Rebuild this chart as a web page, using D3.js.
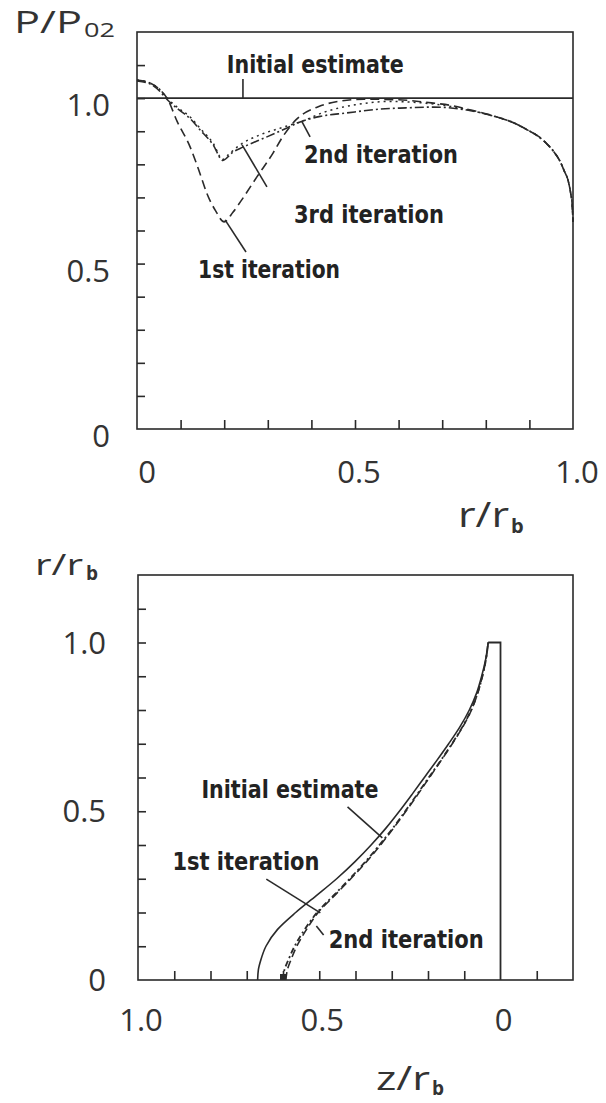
<!DOCTYPE html>
<html>
<head>
<meta charset="utf-8">
<script src="https://cdn.jsdelivr.net/npm/d3@7"></script>
<style>
body { margin: 0; background: #fff; }
.lbl { font-family: "Open Sans", "Liberation Sans", sans-serif; font-weight: 400; fill: #333; }
.note { font-family: "Liberation Sans Narrow", "DejaVu Sans Condensed", "Liberation Sans", sans-serif; font-weight: bold; font-size: 24px; fill: #222; }
</style>
</head>
<body>
<script>
// ---- top chart: P/P02 against r/rb
const topXTicks = [0.1, 0.2, 0.3, 0.4, 0.5, 0.6, 0.7, 0.8, 0.9];
const topYTicks = [0.1, 0.2, 0.3, 0.4, 0.5, 0.6, 0.7, 0.8, 0.9, 1.0, 1.1];
const topXLabels = [0, 0.5, 1.0];
const topYLabels = [0, 0.5, 1.0];

const initR = [0, 1.0];
const initP = [1.0, 1.0];

const it1R = [0, 0.03, 0.053, 0.069, 0.092, 0.122, 0.144, 0.16, 0.18, 0.2, 0.22, 0.243, 0.275, 0.312, 0.335, 0.365, 0.417, 0.461, 0.52, 0.6, 0.68, 0.72, 0.76, 0.8, 0.833, 0.865, 0.894, 0.92, 0.94, 0.955, 0.97, 0.98, 0.989, 0.995, 0.998, 1.0];
const it1P = [1.055, 1.046, 1.025, 1.0, 0.93, 0.852, 0.774, 0.713, 0.66, 0.626, 0.655, 0.698, 0.762, 0.834, 0.885, 0.935, 0.975, 0.99, 0.997, 0.995, 0.985, 0.978, 0.966, 0.953, 0.94, 0.925, 0.905, 0.885, 0.862, 0.84, 0.81, 0.78, 0.75, 0.71, 0.68, 0.626];

const it2R = [0, 0.03, 0.053, 0.069, 0.095, 0.122, 0.144, 0.174, 0.197, 0.21, 0.24, 0.28, 0.33, 0.378, 0.43, 0.5, 0.58, 0.66, 0.72, 0.76, 0.8, 0.833, 0.865, 0.894, 0.92, 0.94, 0.955, 0.97, 0.98, 0.989, 0.995, 0.998, 1.0];
const it2P = [1.055, 1.046, 1.025, 1.0, 0.97, 0.943, 0.91, 0.865, 0.815, 0.83, 0.862, 0.888, 0.91, 0.93, 0.958, 0.98, 0.99, 0.985, 0.975, 0.965, 0.952, 0.94, 0.925, 0.905, 0.885, 0.862, 0.84, 0.81, 0.78, 0.75, 0.71, 0.68, 0.626];

const it3R = [0, 0.03, 0.053, 0.069, 0.095, 0.122, 0.144, 0.174, 0.197, 0.22, 0.243, 0.298, 0.344, 0.374, 0.42, 0.479, 0.569, 0.603, 0.679, 0.757, 0.8, 0.833, 0.865, 0.894, 0.92, 0.94, 0.955, 0.97, 0.98, 0.989, 0.995, 0.998, 1.0];
const it3P = [1.052, 1.043, 1.02, 0.996, 0.966, 0.938, 0.905, 0.86, 0.812, 0.837, 0.852, 0.883, 0.91, 0.928, 0.945, 0.955, 0.968, 0.97, 0.973, 0.964, 0.952, 0.94, 0.925, 0.905, 0.885, 0.862, 0.84, 0.81, 0.78, 0.75, 0.71, 0.68, 0.626];

// ---- bottom chart: r/rb against z/rb
const botXTicks = [0.9, 0.8, 0.7, 0.6, 0.5, 0.4, 0.3, 0.2, 0.1, -0.1];
const botYTicks = [0.1, 0.2, 0.3, 0.4, 0.5, 0.6, 0.7, 0.8, 0.9, 1.0, 1.1];
const botXLabels = [1.0, 0.5, 0];
const botYLabels = [0, 0.5, 1.0];

const shapeR = [0, 0.03, 0.06, 0.1, 0.15, 0.2, 0.25, 0.3, 0.35, 0.4, 0.45, 0.5, 0.55, 0.6, 0.65, 0.7, 0.75, 0.8, 0.85, 0.9, 0.95, 1.0];
const shapeInitZ = [0.670, 0.668, 0.661, 0.647, 0.615, 0.565, 0.508, 0.452, 0.402, 0.357, 0.316, 0.279, 0.244, 0.21, 0.176, 0.143, 0.112, 0.086, 0.066, 0.052, 0.041, 0.034];
const shapeIt1Z = [0.592, 0.588, 0.578, 0.562, 0.535, 0.503, 0.458, 0.413, 0.37, 0.331, 0.295, 0.261, 0.228, 0.196, 0.164, 0.133, 0.104, 0.08, 0.063, 0.05, 0.04, 0.034];
const shapeIt2Z = [0.6, 0.596, 0.585, 0.568, 0.54, 0.506, 0.461, 0.416, 0.373, 0.334, 0.297, 0.263, 0.23, 0.198, 0.165, 0.134, 0.105, 0.081, 0.063, 0.05, 0.04, 0.034];
const wallZ = [0.034, 0, 0];
const wallR = [1.0, 1.0, 0];

function main() {
    let svg = d3.select("body").append("svg")
        .attr("width", 606)
        .attr("height", 1103);

    const ink = "#2a2a2a";
    const zip = (a, b) => a.map((v, i) => [v, b[i]]);

    // ================= top chart =================
    let x1 = d3.scaleLinear().domain([0, 1]).range([137, 573]);
    let y1 = d3.scaleLinear().domain([0, 1.2]).range([429, 32]);

    svg.append("rect")
        .attr("x", x1(0)).attr("y", y1(1.2))
        .attr("width", x1(1) - x1(0)).attr("height", y1(0) - y1(1.2))
        .attr("fill", "none").attr("stroke", ink).attr("stroke-width", 1.6);

    let gx1 = svg.append("g")
        .attr("transform", `translate(0,${y1(0)})`)
        .call(d3.axisBottom(x1).tickValues(topXTicks).tickSize(-9).tickFormat(""));
    let gy1 = svg.append("g")
        .attr("transform", `translate(${x1(0)},0)`)
        .call(d3.axisLeft(y1).tickValues(topYTicks).tickSize(-8).tickFormat(""));
    [gx1, gy1].forEach(g => {
        g.select(".domain").remove();
        g.selectAll("line").attr("stroke", ink).attr("stroke-width", 1.6);
    });

    svg.selectAll(".tx1").data(topXLabels).enter().append("text")
        .attr("class", "lbl")
        .attr("x", d => x1(d) + (d === 0 ? 10 : 4))
        .attr("y", y1(0) + 54)
        .attr("text-anchor", "middle")
        .style("font-size", "31px")
        .text(d => d === 0 ? "0" : d.toFixed(1));
    svg.selectAll(".ty1").data(topYLabels).enter().append("text")
        .attr("class", "lbl")
        .attr("x", 110)
        .attr("y", d => y1(d) + 18)
        .attr("text-anchor", "end")
        .style("font-size", "31px")
        .text(d => d === 0 ? "0" : d.toFixed(1));

    let title = (x, y, len, size, txt, bold) => {
        let t = svg.append("text").attr("class", "lbl")
            .attr("x", x).attr("y", y)
            .style("font-size", size + "px")
            .text(txt);
        if (len) t.attr("textLength", len).attr("lengthAdjust", "spacingAndGlyphs");
        if (bold) t.style("font-weight", "bold");
        return t;
    };

    title(14, 33, 68, 31, "P/P");
    title(84, 37, 31, 20, "02");

    title(458, 527, 51, 35, "r/r");
    title(511, 533, 0, 20, "b", true);

    let topLine = d3.line()
        .x(d => x1(d[0])).y(d => y1(d[1]))
        .curve(d3.curveMonotoneX);

    svg.append("path").datum(zip(initR, initP))
        .attr("d", topLine).attr("fill", "none")
        .attr("stroke", ink).attr("stroke-width", 1.6);
    svg.append("path").datum(zip(it1R, it1P))
        .attr("d", topLine).attr("fill", "none")
        .attr("stroke", ink).attr("stroke-width", 1.6)
        .attr("stroke-dasharray", "9,5");
    svg.append("path").datum(zip(it2R, it2P))
        .attr("d", topLine).attr("fill", "none")
        .attr("stroke", ink).attr("stroke-width", 1.5)
        .attr("stroke-dasharray", "2,4");
    svg.append("path").datum(zip(it3R, it3P))
        .attr("d", topLine).attr("fill", "none")
        .attr("stroke", ink).attr("stroke-width", 1.6)
        .attr("stroke-dasharray", "9,3,2,3");

    // labels and leader lines (data units)
    let lead = (sx, sy, a, b, c, d) => svg.append("line")
        .attr("x1", sx(a)).attr("y1", sy(b)).attr("x2", sx(c)).attr("y2", sy(d))
        .attr("stroke", ink).attr("stroke-width", 1.6);
    let note = (sx, sy, a, b, len, txt) => svg.append("text")
        .attr("class", "note")
        .attr("x", sx(a)).attr("y", sy(b))
        .attr("textLength", len).attr("lengthAdjust", "spacingAndGlyphs")
        .text(txt);

    note(x1, y1, 0.206, 1.076, 177, "Initial estimate");
    lead(x1, y1, 0.243, 1.058, 0.243, 1.0);
    note(x1, y1, 0.383, 0.804, 154, "2nd iteration");
    lead(x1, y1, 0.378, 0.93, 0.397, 0.883);
    note(x1, y1, 0.36, 0.623, 150, "3rd iteration");
    lead(x1, y1, 0.241, 0.859, 0.298, 0.732);
    note(x1, y1, 0.14, 0.456, 142, "1st iteration");
    lead(x1, y1, 0.202, 0.632, 0.25, 0.535);

    // ================= bottom chart =================
    let x2 = d3.scaleLinear().domain([1.0, -0.2]).range([138, 573]);
    let y2 = d3.scaleLinear().domain([0, 1.2]).range([980, 575]);

    svg.append("rect")
        .attr("x", x2(1.0)).attr("y", y2(1.2))
        .attr("width", x2(-0.2) - x2(1.0)).attr("height", y2(0) - y2(1.2))
        .attr("fill", "none").attr("stroke", ink).attr("stroke-width", 1.6);

    let gx2 = svg.append("g")
        .attr("transform", `translate(0,${y2(0)})`)
        .call(d3.axisBottom(x2).tickValues(botXTicks).tickSize(-9).tickFormat(""));
    let gy2 = svg.append("g")
        .attr("transform", `translate(${x2(1.0)},0)`)
        .call(d3.axisLeft(y2).tickValues(botYTicks).tickSize(-8).tickFormat(""));
    [gx2, gy2].forEach(g => {
        g.select(".domain").remove();
        g.selectAll("line").attr("stroke", ink).attr("stroke-width", 1.6);
    });

    svg.selectAll(".tx2").data(botXLabels).enter().append("text")
        .attr("class", "lbl")
        .attr("x", d => x2(d) + 3)
        .attr("y", y2(0) + 51)
        .attr("text-anchor", "middle")
        .style("font-size", "31px")
        .text(d => d === 0 ? "0" : d.toFixed(1));
    svg.selectAll(".ty2").data(botYLabels).enter().append("text")
        .attr("class", "lbl")
        .attr("x", 106)
        .attr("y", d => y2(d) + 11)
        .attr("text-anchor", "end")
        .style("font-size", "31px")
        .text(d => d === 0 ? "0" : d.toFixed(1));

    title(35, 575, 48, 30, "r/r");
    title(86, 580, 0, 19, "b", true);

    title(376, 1090, 54, 33, "z/r");
    title(432, 1095, 0, 19, "b", true);

    let botLine = d3.line()
        .x(d => x2(d[0])).y(d => y2(d[1]))
        .curve(d3.curveMonotoneY);

    svg.append("path").datum(zip(wallZ, wallR))
        .attr("d", d3.line().x(d => x2(d[0])).y(d => y2(d[1])))
        .attr("fill", "none").attr("stroke", ink).attr("stroke-width", 1.8);
    svg.append("path").datum(zip(shapeInitZ, shapeR))
        .attr("d", botLine).attr("fill", "none")
        .attr("stroke", ink).attr("stroke-width", 1.6);
    svg.append("path").datum(zip(shapeIt1Z, shapeR))
        .attr("d", botLine).attr("fill", "none")
        .attr("stroke", ink).attr("stroke-width", 1.6)
        .attr("stroke-dasharray", "8,4");
    svg.append("path").datum(zip(shapeIt2Z, shapeR))
        .attr("d", botLine).attr("fill", "none")
        .attr("stroke", ink).attr("stroke-width", 1.8)
        .attr("stroke-dasharray", "6,3,2,3");
    svg.append("rect")
        .attr("x", x2(shapeIt2Z[0]) - 3).attr("y", y2(shapeR[0]) - 6)
        .attr("width", 6).attr("height", 6)
        .attr("fill", ink);

    note(x2, y2, 0.825, 0.539, 177, "Initial estimate");
    lead(x2, y2, 0.422, 0.513, 0.326, 0.421);
    note(x2, y2, 0.905, 0.326, 147, "1st iteration");
    lead(x2, y2, 0.646, 0.299, 0.497, 0.199);
    note(x2, y2, 0.474, 0.095, 155, "2nd iteration");
    lead(x2, y2, 0.488, 0.133, 0.508, 0.16);
}

main()
</script>
</body>
</html>
